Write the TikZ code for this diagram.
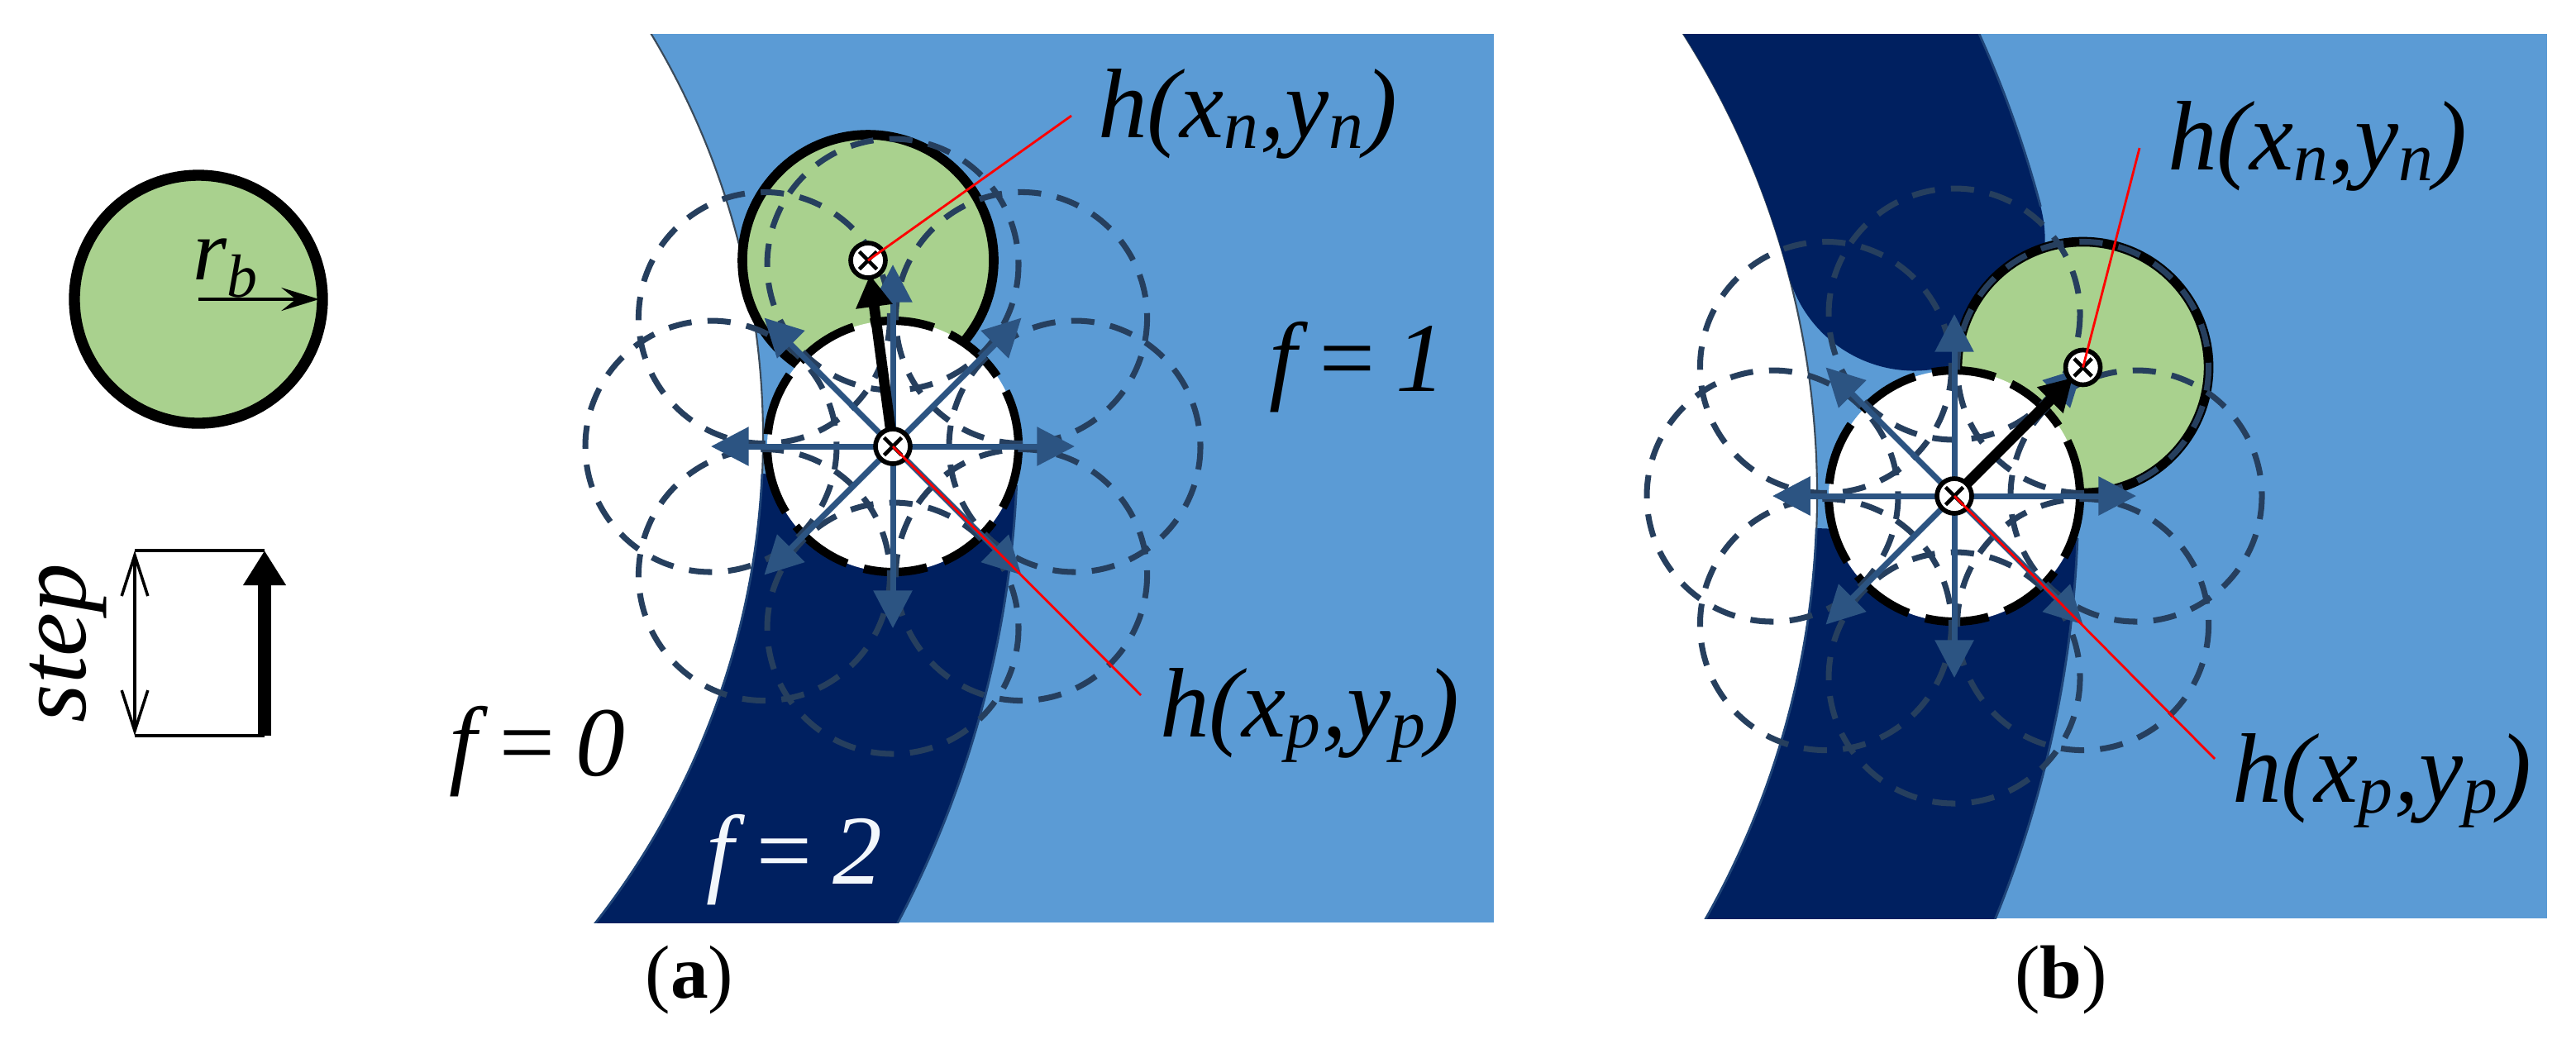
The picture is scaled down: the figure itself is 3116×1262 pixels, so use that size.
\documentclass[tikz,border=0pt]{standalone}
\usepackage{fontspec}
\setmainfont{Liberation Serif}
\usetikzlibrary{arrows.meta,calc}
\definecolor{fone}{HTML}{5B9BD5}
\definecolor{ftwo}{HTML}{002060}
\definecolor{ballgreen}{HTML}{A9D18E}
\definecolor{nbr}{HTML}{263F5E}
\definecolor{nbrarrow}{HTML}{2C5482}
\definecolor{edgegray}{HTML}{3A4A5A}
\newcommand\LblFont{\fontsize{34pt}{40pt}\selectfont\itshape}
\newcommand\CapFont{\fontsize{26pt}{30pt}\selectfont}
\begin{document}
\begin{tikzpicture}[x=0.01cm,y=-0.01cm,
  every node/.style={inner sep=0pt,outer sep=0pt},
  ballN/.style={fill=ballgreen,draw=black,line width=3.3pt},
  ballP/.style={fill=white,draw=black,line width=2.9pt,dash pattern=on 22pt off 6pt},
  nbrcircle/.style={draw=nbr,line width=2pt,dash pattern=on 8pt off 5.5pt},
  nbrarr/.style={draw=nbrarrow,line width=2pt,-{Triangle[length=13pt,width=13pt]}},
  movearr/.style={draw=black,line width=3.6pt,-{Triangle[length=11pt,width=12pt]},shorten >=5pt},
  leader/.style={draw=red,line width=0.8pt},
  bandedge/.style={draw=nbrarrow!70!ftwo,line width=0.8pt},
  crossmark/.pic={
    \draw[fill=white,line width=1.6pt] (0,0) circle[radius=21];
    \draw[line width=1.3pt] (45:15) -- (225:15) (135:15) -- (-45:15);
  }]
\useasboundingbox (0,0) rectangle (3116,1262);

% ---------------- legend ----------------
\coordinate (lc) at (240,362);
\coordinate (lcr) at (386,362);
\draw[fill=ballgreen,line width=3.8pt] (lc) circle[radius=150];
\draw[line width=1pt,-{Stealth[length=13pt,width=8pt,inset=5pt]}] (lc) -- (lcr);
\node[anchor=base west] (rb) at (233,338) {\fontsize{30pt}{36pt}\selectfont\itshape r\textsubscript{b}};

\coordinate (stl) at (163,666);
\coordinate (sbl) at (163,890);
\coordinate (str) at (320,666);
\coordinate (sbr) at (320,890);
\draw[line width=1pt] (stl) -- (str);
\draw[line width=1pt] (sbl) -- (sbr);
\draw[line width=1pt,{Straight Barb[length=14pt,width=9pt]}-{Straight Barb[length=14pt,width=9pt]}] (sbl) -- (stl);
\draw[line width=4.3pt,-{Triangle[length=12pt,width=14pt]}] (sbr) -- (str);
\node[rotate=90] (steplbl) at (83,778) {\LblFont step};

% ---------------- panel (a) ----------------
\coordinate (Ca) at (-27,530);
\begin{scope}
  \clip (650,41) rectangle (1807,1116);
  \fill[fone] (650,41) rectangle (1807,1116);
  \fill[white] (Ca) circle[radius=950];
  \draw[edgegray,line width=0.6pt] (Ca) circle[radius=950];
  \begin{scope}[shift={(Ca)}]
    \fill[ftwo] (2.6:950) arc[start angle=2.6,end angle=60,radius=950]
      -- (60:1258) arc[start angle=60,end angle=2.6,radius=1258] -- cycle;
    \draw[bandedge] (2.6:950) arc[start angle=2.6,end angle=60,radius=950];
    \draw[bandedge] (2.6:1258) arc[start angle=2.6,end angle=60,radius=1258];
  \end{scope}
\end{scope}

\coordinate (na) at (1050,315);
\coordinate (pa) at (1080,540);
\draw[ballN] (na) circle[radius=152];
\draw[ballP] (pa) circle[radius=152];
\foreach \a [count=\i] in {0,45,...,315}
  \coordinate (pa\i) at ($(pa)+(\a:220)$);
\foreach \i in {1,...,8}
  \draw[nbrcircle] (pa\i) circle[radius=152];
\foreach \i in {1,...,8}
  \draw[nbrarr] (pa) -- (pa\i);
\draw[movearr] (pa) -- (na);
\pic at (pa) {crossmark};
\pic at (na) {crossmark};
\coordinate (lna) at (1296,140);
\coordinate (lpa) at (1380,841);
\draw[leader] (na) -- (lna);
\draw[leader] (pa) -- (lpa);

\node[anchor=base west] (hna) at (1328,166) {\LblFont h(x\textsubscript{n},y\textsubscript{n})};
\node[anchor=base west] (hpa) at (1403,891) {\LblFont h(x\textsubscript{p},y\textsubscript{p})};
\node[anchor=base west] (f0) at (543,938) {\LblFont f\,=\,0};
\node[anchor=base west] (f1) at (1535,473) {\LblFont f\,=\,1};
\node[anchor=base west,text=white!92!fone] (f2) at (854,1069) {\LblFont f\,=\,2};
\node (capa) at (834,1185) {\CapFont(\textbf{a})};

% ---------------- panel (b) ----------------
\coordinate (Cb) at (1156,599);
\begin{scope}
  \clip (1960,41) rectangle (3081,1111);
  \fill[fone] (1960,41) rectangle (3081,1111);
  \fill[white] (Cb) circle[radius=1042];
  \draw[edgegray,line width=0.6pt] (Cb) circle[radius=1042];
  \begin{scope}[shift={(Cb)}]
    \fill[ftwo] (-60:1042) arc[start angle=-60,end angle=-14.9,radius=1042]
      arc[start angle=165.1,end angle=-14.9,radius=158]
      arc[start angle=-14.9,end angle=-60,radius=1358] -- cycle;
    \draw[bandedge] (-60:1358) arc[start angle=-60,end angle=-14.9,radius=1358];
    \fill[ftwo] (2.2:1042) arc[start angle=2.2,end angle=60,radius=1042]
      -- (60:1358) arc[start angle=60,end angle=2.2,radius=1358] -- cycle;
    \draw[bandedge] (2.2:1042) arc[start angle=2.2,end angle=60,radius=1042];
    \draw[bandedge] (2.2:1358) arc[start angle=2.2,end angle=60,radius=1358];
  \end{scope}
\end{scope}

\coordinate (pb) at (2364,600);
\coordinate (nb) at ($(pb)+(-45:220)$);
\draw[ballN] (nb) circle[radius=152];
\draw[ballP] (pb) circle[radius=152];
\foreach \a [count=\i] in {0,45,...,315}
  \coordinate (pb\i) at ($(pb)+(\a:220)$);
\foreach \i in {1,...,8}
  \draw[nbrcircle] (pb\i) circle[radius=152];
\foreach \i in {1,...,8}
  \draw[nbrarr] (pb) -- (pb\i);
\draw[movearr] (pb) -- (nb);
\pic at (pb) {crossmark};
\pic at (nb) {crossmark};
\coordinate (lnb) at (2588,179);
\coordinate (lpb) at (2679,918);
\draw[leader] (nb) -- (lnb);
\draw[leader] (pb) -- (lpb);

\node[anchor=base west] (hnb) at (2622,205) {\LblFont h(x\textsubscript{n},y\textsubscript{n})};
\node[anchor=base west] (hpb) at (2700,970) {\LblFont h(x\textsubscript{p},y\textsubscript{p})};
\node (capb) at (2493,1185) {\CapFont(\textbf{b})};
\end{tikzpicture}
\end{document}
